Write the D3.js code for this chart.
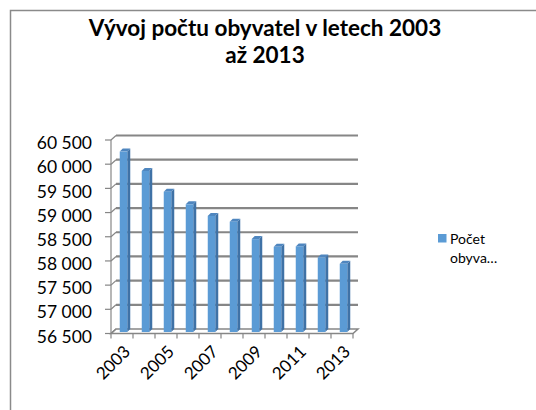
<!DOCTYPE html>
<html>
<head>
<meta charset="utf-8">
<script src="https://cdn.jsdelivr.net/npm/d3@7"></script>
<style>
  body { margin: 0; background: #fff; }
  text { font-family: Lato, "Open Sans", sans-serif; fill: #000; }
</style>
</head>
<body>
<div id="chart"></div>
<script>
// data
var years = [2003, 2004, 2005, 2006, 2007, 2008, 2009, 2010, 2011, 2012, 2013];
var population = [60230, 59830, 59400, 59140, 58900, 58780, 58420, 58260, 58270, 58040, 57910];
var yTicks = [56500, 57000, 57500, 58000, 58500, 59000, 59500, 60000, 60500];
var xLabelYears = [2003, 2005, 2007, 2009, 2011, 2013];
var titleLines = ["Vývoj počtu obyvatel v letech 2003", "až 2013"];
var legendLines = ["Počet", "obyva…"];

var svgWidth = 536;
var svgHeight = 410;

// front edge of the plot, the 3d depth goes up-right from it
var plot = { left: 111, right: 353, top: 140, bottom: 333.5 };
var depth = { dx: 5, dy: -4.5 };

var svg = d3.select("#chart")
  .append("svg")
  .attr("width", svgWidth)
  .attr("height", svgHeight);

// chart area border (runs off the bottom/right of the window)
svg.append("rect")
  .attr("x", 10.5)
  .attr("y", 10.5)
  .attr("width", 700)
  .attr("height", 600)
  .attr("fill", "#fff")
  .attr("stroke", "#8a8a8a")
  .attr("stroke-width", 1.5);

// title, two separate lines
svg.append("g")
  .selectAll("text")
  .data(titleLines)
  .enter()
  .append("text")
  .attr("x", 265)
  .attr("y", (d, i) => 36 + i * 27)
  .attr("text-anchor", "middle")
  .style("font-size", "22.5px")
  .style("font-weight", "bold")
  .text(d => d);

var x = d3.scaleBand()
  .domain(years)
  .range([plot.left, plot.right]);

var y = d3.scaleLinear()
  .domain([56500, 60500])
  .range([plot.bottom, plot.top]);

var gridColor = "#868686";

// floor
svg.append("path")
  .attr("d", `M${plot.left},${plot.bottom} L${plot.right},${plot.bottom} L${plot.right + depth.dx},${plot.bottom + depth.dy} L${plot.left + depth.dx},${plot.bottom + depth.dy} Z`)
  .attr("fill", "#fff")
  .attr("stroke", gridColor)
  .attr("stroke-width", 1.5);

// back wall gridlines + side wall diagonals
var grid = svg.append("g");
yTicks.forEach(function(t) {
  var yy = y(t);
  if (t !== 56500) {
    grid.append("line")
      .attr("x1", plot.left + depth.dx)
      .attr("x2", plot.right + depth.dx)
      .attr("y1", yy + depth.dy)
      .attr("y2", yy + depth.dy)
      .attr("stroke", gridColor)
      .attr("stroke-width", 2.2);
  }
  grid.append("line")
    .attr("x1", plot.left)
    .attr("x2", plot.left + depth.dx)
    .attr("y1", yy)
    .attr("y2", yy + depth.dy)
    .attr("stroke", gridColor)
    .attr("stroke-width", 1.2);
  // tick mark
  grid.append("line")
    .attr("x1", plot.left - 6)
    .attr("x2", plot.left)
    .attr("y1", yy)
    .attr("y2", yy)
    .attr("stroke", gridColor)
    .attr("stroke-width", 1.2);
});

// side wall front edge (y axis line)
svg.append("line")
  .attr("x1", plot.left)
  .attr("x2", plot.left)
  .attr("y1", y(60500))
  .attr("y2", plot.bottom)
  .attr("stroke", gridColor)
  .attr("stroke-width", 1.2);

// y labels
svg.append("g")
  .selectAll("text")
  .data(yTicks)
  .enter()
  .append("text")
  .attr("x", 92)
  .attr("y", d => y(d) + 3)
  .attr("dy", "0.35em")
  .attr("text-anchor", "end")
  .style("font-size", "17.5px")
  .text(d => d3.format(",")(d).replace(",", " "));

// x tick marks at category boundaries
var boundaries = years.map(d => x(d)).concat([plot.right]);
svg.append("g")
  .selectAll("line")
  .data(boundaries)
  .enter()
  .append("line")
  .attr("x1", d => d)
  .attr("x2", d => d)
  .attr("y1", plot.bottom)
  .attr("y2", plot.bottom + 5)
  .attr("stroke", gridColor)
  .attr("stroke-width", 1.2);

// x labels, rotated
svg.append("g")
  .selectAll("text")
  .data(xLabelYears)
  .enter()
  .append("text")
  .attr("text-anchor", "end")
  .style("font-size", "17px")
  .attr("transform", d => `translate(${x(d) + x.bandwidth() / 2 + 5}, ${plot.bottom + 15}) rotate(-45)`)
  .attr("dy", "0.35em")
  .text(d => d);

// bars (3d columns at mid depth)
var barW = 7.5;
var barOff = { dx: 1.5, dy: -1.5 };
var barDepth = { dx: 3, dy: -3 };
var bars = svg.append("g")
  .selectAll("g")
  .data(years.map((d, i) => ({ year: d, value: population[i] })))
  .enter()
  .append("g");

function barX(d) { return x(d.year) + x.bandwidth() / 2 - barW / 2 + barOff.dx; }
function barTop(d) { return y(d.value) + barOff.dy; }
var barBottom = plot.bottom + barOff.dy;

// side face
bars.append("path")
  .attr("d", function(d) {
    var x1 = barX(d) + barW, t = barTop(d);
    return `M${x1},${t} L${x1 + barDepth.dx},${t + barDepth.dy} L${x1 + barDepth.dx},${barBottom + barDepth.dy} L${x1},${barBottom} Z`;
  })
  .attr("fill", "#3f72a6");

// top face
bars.append("path")
  .attr("d", function(d) {
    var x0 = barX(d), t = barTop(d);
    return `M${x0},${t} L${x0 + barDepth.dx},${t + barDepth.dy} L${x0 + barW + barDepth.dx},${t + barDepth.dy} L${x0 + barW},${t} Z`;
  })
  .attr("fill", "#4f86bf");

// front face
bars.append("rect")
  .attr("x", d => barX(d))
  .attr("y", d => barTop(d))
  .attr("width", barW)
  .attr("height", d => barBottom - barTop(d))
  .attr("fill", "#5b9bd5");

// legend
svg.append("rect")
  .attr("x", 438)
  .attr("y", 234)
  .attr("width", 8.5)
  .attr("height", 8.5)
  .attr("fill", "#5b9bd5");

svg.append("g")
  .selectAll("text")
  .data(legendLines)
  .enter()
  .append("text")
  .attr("x", 450)
  .attr("y", (d, i) => 244 + i * 19)
  .style("font-size", "14px")
  .text(d => d);
</script>
</body>
</html>
